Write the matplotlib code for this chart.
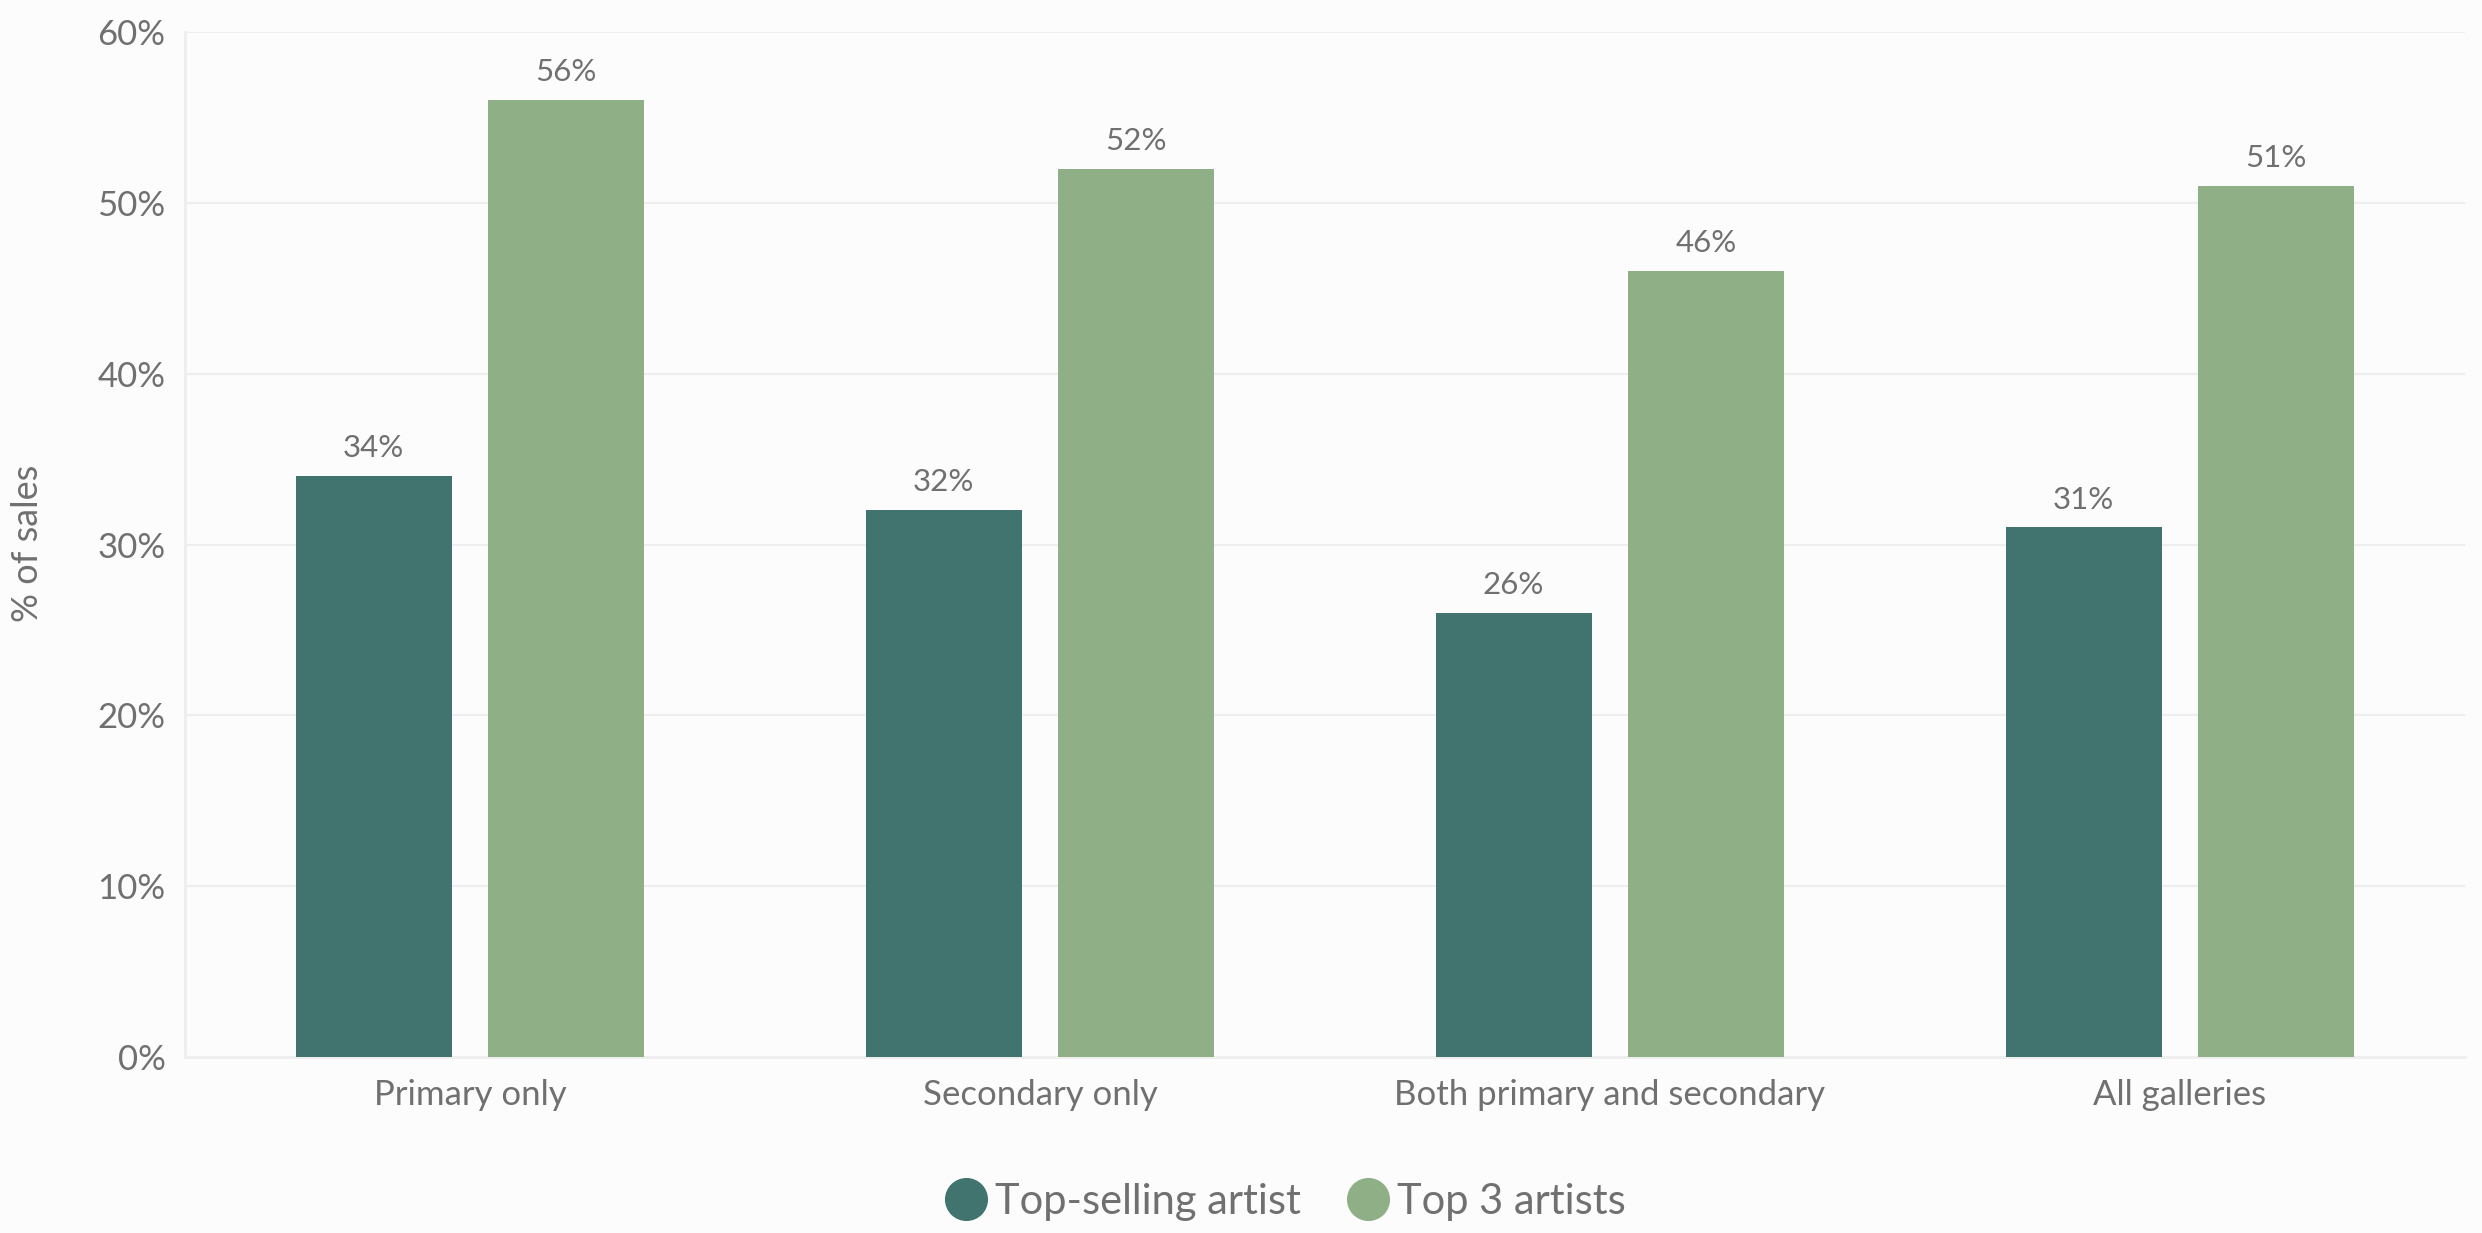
import numpy as np
import matplotlib.pyplot as plt
from matplotlib.lines import Line2D
from matplotlib.ticker import PercentFormatter

# данные графика
categories = ['Primary only', 'Secondary only', 'Both primary and secondary', 'All galleries']
top_selling = [34, 32, 26, 31]
top_three = [56, 52, 46, 51]
series_names = ['Top-selling artist', 'Top 3 artists']

dark = '#41746f'
light = '#8faf86'
text_col = '#707070'
bg = '#fcfcfc'

plt.rcParams['font.family'] = ['Lato', 'DejaVu Sans']

fig = plt.figure(figsize=(24.82, 12.33), dpi=100, facecolor=bg)
ax = fig.add_axes([185 / 2482, 1 - 1057 / 1233, (2465 - 185) / 2482, (1057 - 32) / 1233])
ax.set_facecolor(bg)

x = np.arange(len(categories))
w = 0.274
off = 0.169
b1 = ax.bar(x - off, top_selling, w, color=dark, zorder=3)
b2 = ax.bar(x + off, top_three, w, color=light, zorder=3)

# подписи значений над столбцами
for bars, vals in ((b1, top_selling), (b2, top_three)):
    for bar, v in zip(bars, vals):
        ax.annotate('%d%%' % v, (bar.get_x() + bar.get_width() / 2, v),
                    xytext=(0, 10), textcoords='offset points',
                    ha='center', va='bottom', fontsize=22.5, color=text_col)

ax.set_xlim(-0.5, len(categories) - 0.5)
ax.set_ylim(0, 60)
ax.set_yticks(range(0, 61, 10))
ax.yaxis.set_major_formatter(PercentFormatter(decimals=0))
ax.set_xticks(x)
ax.set_xticklabels(categories)
ax.tick_params(axis='both', length=0, labelsize=25, labelcolor=text_col)
ax.tick_params(axis='x', pad=16)
ax.tick_params(axis='y', pad=14)
ax.grid(axis='y', color='#eeeeee', linewidth=1.5, zorder=0)
for s in ['top', 'right']:
    ax.spines[s].set_visible(False)
for s in ['left', 'bottom']:
    ax.spines[s].set_color('#eeeeee')
    ax.spines[s].set_linewidth(2)

fig.text(28 / 2482, 1 - 543 / 1233, '% of sales', rotation=90, ha='center', va='center',
         fontsize=26, color=text_col)

handles = [Line2D([], [], marker='o', linestyle='', markersize=30, color=c) for c in (dark, light)]
fig.legend(handles, series_names, loc='center', bbox_to_anchor=(0.517, 1 - 1202 / 1233),
           ncol=2, frameon=False, fontsize=30, labelcolor=text_col,
           handletextpad=0.1, columnspacing=1.0, handlelength=1.2)

fig.savefig('out.png', dpi=100, facecolor=bg)
